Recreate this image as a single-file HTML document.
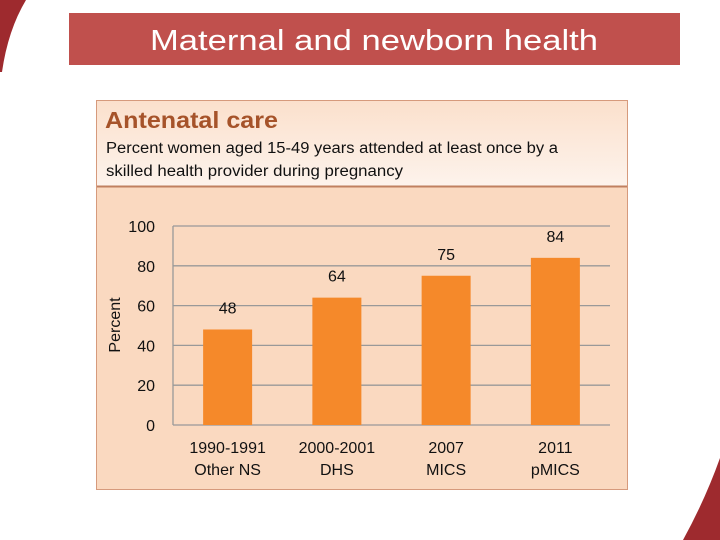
<!DOCTYPE html>
<html><head><meta charset="utf-8"><style>
body{margin:0;width:720px;height:540px;overflow:hidden;background:#fff;font-family:"Liberation Sans",sans-serif}
</style></head><body>
<svg width="720" height="540" viewBox="0 0 720 540" style="position:absolute;left:0;top:0">
<defs>
<linearGradient id="hg" x1="0" y1="0" x2="0" y2="1"><stop offset="0" stop-color="#fbe0cc"/><stop offset="1" stop-color="#fdf3ec"/></linearGradient>
</defs>
<path d="M0,0 L26,0 Q8,30 2,72 L0,72 Z" fill="#9e2a2e"/>
<path d="M720,458 L720,540 L683,540 Q705,500 720,458 Z" fill="#9e2a2e"/>
<rect x="69" y="13" width="611" height="52" fill="#c0504d"/>
<text x="374" y="50" text-anchor="middle" font-size="29" fill="#fff" font-family="Liberation Sans, sans-serif" textLength="448" lengthAdjust="spacingAndGlyphs">Maternal and newborn health</text>
<rect x="96.5" y="100.5" width="531" height="389" fill="#fad9c0" stroke="#d69a7c"/>
<rect x="97" y="101" width="530" height="85" fill="url(#hg)"/>
<line x1="97" y1="186.5" x2="627" y2="186.5" stroke="#c08060" stroke-width="2"/>
<text x="105" y="128" font-size="23" font-weight="bold" fill="#a6532a" textLength="173" lengthAdjust="spacingAndGlyphs">Antenatal care</text>
<text font-size="15.5" fill="#111"><tspan x="106" y="153" textLength="452" lengthAdjust="spacingAndGlyphs">Percent women aged 15-49 years attended at least once by a</tspan><tspan x="106" y="176" textLength="297" lengthAdjust="spacingAndGlyphs">skilled health provider during pregnancy</tspan></text>
<g id="chart"></g>
<text transform="translate(120,325) rotate(-90)" text-anchor="middle" font-size="16" fill="#111">Percent</text>
</svg>
<script>
const categories=["1990-1991|Other NS","2000-2001|DHS","2007|MICS","2011|pMICS"];
const values=[48,64,75,84];
const yTicks=[0,20,40,60,80,100];
const g=document.getElementById('chart');const NS='http://www.w3.org/2000/svg';
const x0=173,x1=610,yb=425,yt=226;
const y=v=>yb-(v/100)*(yb-yt);
const band=(x1-x0)/categories.length;
const xc=i=>x0+band*(i+0.5);
function mk(t,a){const e=document.createElementNS(NS,t);for(const k in a)e.setAttribute(k,a[k]);g.appendChild(e);return e;}
yTicks.forEach(t=>{
 const l=mk('line',{x1:x0,x2:x1,y1:y(t),y2:y(t),stroke:'#999','stroke-width':1.3});
 
 
 const tx=mk('text',{x:155,y:y(t)+6,'text-anchor':'end','font-size':16,fill:'#111'});tx.textContent=t;
 
 
});
const ax=mk('line',{x1:x0,x2:x0,y1:yt,y2:yb,stroke:'#999','stroke-width':1.3});


values.forEach((v,i)=>{
 const r=mk('rect',{x:xc(i)-24.5,y:y(v),width:49,height:yb-y(v),fill:'#f5892a'});
 
 
 const lb=mk('text',{x:xc(i),y:y(v)-16,'text-anchor':'middle','font-size':16,fill:'#111'});lb.textContent=v;
 
 
 categories[i].split('|').forEach((s,j)=>{
  const t=mk('text',{x:xc(i),y:453+j*22,'text-anchor':'middle','font-size':16,fill:'#111'});t.textContent=s;
  
  
 });
});
</script>
</body></html>
